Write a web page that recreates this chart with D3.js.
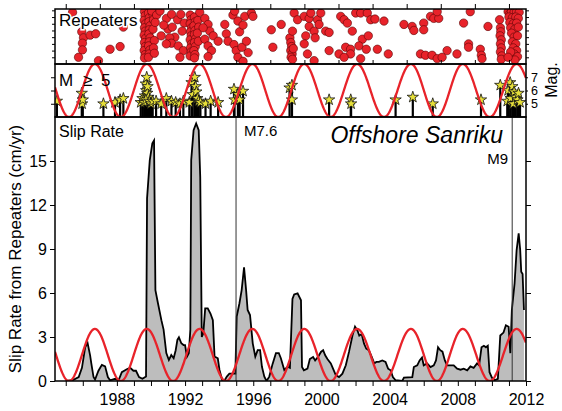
<!DOCTYPE html>
<html>
<head>
<meta charset="utf-8">
<script src="https://cdn.jsdelivr.net/npm/d3@7"></script>
<style>
  body { margin: 0; background: #fff; }
  text { font-family: "Liberation Sans", Arial, Helvetica, sans-serif; }
</style>
</head>
<body>
<svg id="chart" width="562" height="411"></svg>
<script>
// ---- data ----

// repeating earthquakes: [year, sequence position]
var repeaters = [
  [1985.40,7.7],[1985.94,4.8],[1986.04,3.9],[1985.98,3.1],[1985.98,2.1],[1985.75,1.0],[1986.43,4.3],[1986.76,4.5],
  [1986.92,0.5],[1987.60,2.2],[1988.19,2.6],[1988.38,5.5],
  [1989.62,7.8],[1989.65,7.2],[1989.60,6.5],[1989.68,6.0],[1989.62,5.4],[1989.66,4.9],[1989.60,4.3],[1989.68,3.8],
  [1989.62,3.2],[1989.66,2.6],[1989.60,2.0],[1989.66,1.4],[1989.62,0.9],
  [1989.85,7.6],[1989.90,6.9],[1989.88,6.3],[1989.95,5.7],[1989.90,5.1],[1989.88,4.5],[1989.95,3.9],[1989.90,3.3],
  [1989.86,2.7],[1989.94,2.1],[1989.90,1.5],[1989.85,1.0],
  [1990.10,7.5],[1990.15,6.6],[1990.12,5.2],[1990.20,3.5],[1990.15,2.4],[1990.20,1.6],[1990.04,7.9],[1990.33,7.3],[1990.25,6.2],
  [1990.53,7.9],[1990.91,6.8],[1991.21,7.4],[1991.56,6.6],[1991.75,7.4],[1991.95,6.1],[1991.83,4.9],[1991.40,4.0],
  [1991.10,3.9],[1991.20,3.1],[1991.60,2.7],[1991.90,2.0],[1991.70,1.0],[1990.90,3.0],[1990.60,4.2],[1991.00,5.2],
  [1991.25,5.5],[1990.75,5.8],
  [1992.30,7.3],[1992.35,6.6],[1992.30,6.0],[1992.38,5.4],[1992.32,4.8],[1992.36,4.2],[1992.30,3.6],[1992.38,3.0],
  [1992.32,2.4],[1992.36,1.8],[1992.30,1.2],
  [1992.55,7.0],[1992.60,6.3],[1992.52,5.7],[1992.58,5.0],[1992.55,4.4],[1992.62,3.8],[1992.55,3.2],[1992.60,2.6],
  [1992.52,2.0],[1992.58,1.4],[1992.55,0.9],[1992.75,6.5],[1992.80,5.5],[1992.72,4.6],[1992.78,3.4],
  [1992.86,7.7],[1993.16,6.8],[1993.35,5.9],[1993.45,4.9],[1993.65,4.2],[1993.16,3.7],[1993.35,2.7],[1993.55,2.0],
  [1993.35,1.1],[1993.94,3.4],[1993.06,5.4],
  [1994.33,5.9],[1994.42,4.5],[1994.52,3.4],[1994.81,7.3],[1994.91,7.9],[1995.10,6.4],[1995.20,4.8],[1995.40,5.8],
  [1995.50,7.1],[1995.89,7.6],[1995.98,7.1],[1994.87,2.9],[1995.00,2.0],[1995.10,1.0],[1995.40,0.4],[1995.34,2.5],
  [1995.60,3.4],[1995.70,1.7],
  [1997.06,5.1],[1997.15,2.5],[1997.64,5.9],
  [1998.15,3.9],[1998.20,3.2],[1998.25,2.6],[1998.20,2.0],[1998.28,1.5],[1998.22,1.0],[1998.30,0.7],[1998.35,2.3],
  [1998.40,7.6],[1998.60,6.6],[1998.30,4.9],
  [1998.99,7.1],[1999.28,6.8],[1999.38,7.6],[1999.77,6.6],[1999.96,7.6],[1999.28,5.6],[1999.57,4.9],[1999.63,3.9],
  [1999.86,5.9],[1999.08,4.2],[1998.99,3.0],[1999.18,1.5],[1999.57,0.5],
  [2000.25,4.9],[2000.45,4.7],[2000.45,2.0],
  [2001.13,7.1],[2001.33,6.6],[2001.52,6.1],[2001.81,4.9],[2002.01,7.6],[2002.30,7.6],[2002.69,7.6],[2002.89,6.6],
  [2003.14,6.7],[2003.67,6.4],[2002.40,3.7],[2002.75,4.2],[2002.20,2.7],[2002.63,2.2],[2003.28,2.2],[2001.03,1.5],
  [2001.42,2.5],[2001.71,2.2],[2001.71,1.5],[2001.33,1.0],[2002.30,0.8],[2003.92,1.5],
  [2004.84,5.9],[2005.32,5.6],[2005.42,5.0],[2006.00,6.1],[2006.00,5.1],[2006.40,7.1],[2006.59,6.8],[2006.88,6.8],
  [2006.79,7.8],[2005.81,1.5],[2006.10,1.3],[2006.49,1.3],[2006.79,0.8],[2007.37,2.0],[2007.08,1.0],[2007.95,1.5],
  [2008.34,6.1],[2008.73,7.8],[2009.77,5.6],[2008.63,3.0],[2008.63,2.5],[2009.32,2.2],[2009.38,1.3],[2009.42,0.8],
  [2010.45,6.6],[2010.50,5.4],[2010.52,4.8],[2010.48,4.2],[2010.55,3.6],[2010.50,3.0],[2010.55,2.4],[2010.50,1.8],
  [2010.58,1.2],[2010.55,0.7],
  [2010.95,7.8],[2011.05,7.5],[2011.15,7.8],[2011.30,7.7],[2011.45,7.8],[2011.60,7.7],[2011.00,7.0],[2011.20,6.9],
  [2011.40,7.0],[2011.55,6.8],[2011.05,6.2],[2011.25,6.0],[2011.45,6.1],[2011.10,5.4],[2011.35,5.2],[2011.55,5.5],
  [2011.15,4.6],[2011.30,4.0],[2011.50,4.2],[2011.20,3.3],[2011.40,3.0],[2011.25,2.4],[2011.45,2.0],[2011.30,1.5],
  [2011.50,1.1],[2011.35,0.6],[2011.10,1.8],[2010.95,1.0]
];

// M>=5 earthquakes: [year, magnitude]
var quakes = [
  [1984.48,5.2],[1985.94,5.8],[1985.96,5.0],[1986.00,5.3],[1987.21,5.0],[1987.89,5.1],[1988.19,5.3],[1988.38,5.4],
  [1989.40,5.1],[1989.50,5.4],[1989.60,5.1],[1989.65,5.6],[1989.70,6.5],[1989.72,6.0],[1989.75,7.0],[1989.78,5.8],
  [1989.80,6.3],[1989.85,5.5],[1989.70,5.3],[1989.90,5.2],[1990.00,5.0],[1990.10,5.2],
  [1990.30,5.2],[1990.60,5.0],[1990.90,5.4],[1991.20,5.2],[1991.45,5.1],[1991.70,5.0],[1991.90,5.2],
  [1992.25,5.1],[1992.38,6.6],[1992.45,5.7],[1992.57,7.0],[1992.62,6.3],[1992.66,5.9],[1992.72,5.4],[1992.80,5.2],
  [1992.90,5.1],[1993.20,5.0],[1993.50,5.2],[1993.94,5.1],
  [1994.87,6.1],[1994.90,5.3],[1995.10,5.7],[1995.20,5.3],[1995.40,5.95],
  [1998.13,6.2],[1998.27,6.4],[1998.27,5.3],[2000.45,5.3],[2001.72,5.3],[2001.74,5.0],[2004.35,5.3],[2005.36,5.5],
  [2006.53,5.0],[2009.36,5.3],[2010.49,6.4],
  [2010.90,5.2],[2010.95,6.0],[2011.07,6.6],[2011.10,5.4],[2011.20,6.3],[2011.25,5.0],[2011.30,5.9],[2011.40,5.5],
  [2011.50,5.3],[2011.56,5.8],[2011.65,5.1]
];

// slip rate from repeaters (cm/yr): [year, rate]
var slipRate = [
  [1985.00,0],[1985.40,0.05],[1985.76,0.27],[1985.95,0.9],[1986.14,2.3],[1986.28,2.6],[1986.43,1.75],[1986.50,1.2],
  [1986.63,0.27],[1986.72,0.1],[1986.92,0.7],[1987.12,1.1],[1987.31,1.0],[1987.47,0.27],[1987.60,0.05],[1987.90,0.15],
  [1988.10,0.05],[1988.29,0.6],[1988.58,0.8],[1988.78,0.9],[1988.97,0.7],[1989.12,0.7],[1989.30,0.27],[1989.50,0.15],
  [1989.71,0.3],[1989.77,12.45],[1989.93,15.06],[1990.08,16.2],[1990.18,16.4],[1990.26,6.2],[1990.41,5.3],[1990.61,4.15],
  [1990.74,3.5],[1990.90,1.9],[1991.05,1.43],[1991.19,1.77],[1991.33,1.55],[1991.45,2.1],[1991.55,2.8],[1991.64,2.98],
  [1991.78,2.57],[1991.91,2.45],[1992.00,2.45],[1992.11,1.66],[1992.22,1.9],[1992.31,3.5],[1992.36,15.06],[1992.50,17.1],
  [1992.65,17.56],[1992.80,17.1],[1992.89,13.9],[1992.98,3.0],[1993.07,3.26],[1993.18,4.95],[1993.33,4.95],[1993.49,4.6],
  [1993.63,4.15],[1993.73,1.66],[1993.92,1.55],[1994.02,0.75],[1994.18,0.05],[1994.30,0],[1994.45,0.3],[1994.60,0.5],
  [1994.95,0.5],[1995.03,4.4],[1995.19,5.3],[1995.32,6.2],[1995.46,7.75],[1995.58,6.2],[1995.67,4.84],[1995.81,4.5],
  [1995.97,2.57],[1996.12,1.66],[1996.26,2.1],[1996.40,2.1],[1996.51,0.97],[1996.65,0.3],[1996.78,0],[1996.94,0.3],
  [1997.13,1.15],[1997.33,1.9],[1997.50,1.9],[1997.62,1.55],[1997.82,0.75],[1998.01,0.97],[1998.15,0.9],[1998.30,5.6],
  [1998.40,5.9],[1998.60,5.98],[1998.80,5.5],[1998.86,0.95],[1998.97,0.73],[1999.18,0.84],[1999.32,1.5],[1999.51,1.64],
  [1999.63,1.4],[1999.80,1.64],[1999.97,1.98],[2000.10,2.1],[2000.22,1.75],[2000.35,1.5],[2000.55,1.2],[2000.68,0.84],
  [2000.84,0.4],[2001.03,0.27],[2001.23,0.5],[2001.43,1.07],[2001.62,2.0],[2001.82,3.1],[2001.97,3.7],[2002.11,3.45],
  [2002.22,3.1],[2002.36,3.2],[2002.50,2.55],[2002.63,2.2],[2002.78,2.1],[2002.95,1.64],[2003.10,1.2],[2003.22,1.3],
  [2003.37,1.3],[2003.57,1.4],[2003.76,1.3],[2003.91,0.84],[2004.06,0.73],[2004.19,0.27],[2004.35,0.05],[2004.74,0],
  [2004.84,0.23],[2005.33,0.27],[2005.42,0.95],[2005.62,1.07],[2005.76,1.4],[2005.90,1.6],[2006.00,1.07],[2006.20,1.2],
  [2006.40,0.95],[2006.59,1.07],[2006.72,1.4],[2006.84,2.3],[2006.97,2.1],[2007.10,2.0],[2007.24,1.4],[2007.37,1.07],
  [2007.57,1.07],[2007.76,1.07],[2007.96,0.84],[2008.16,0.77],[2008.35,0.84],[2008.55,0.73],[2008.74,1.0],[2008.93,0.9],
  [2009.13,1.2],[2009.25,1.07],[2009.39,2.3],[2009.53,2.4],[2009.65,2.3],[2009.76,2.4],[2009.86,0.6],[2010.00,0.23],
  [2010.15,0.05],[2010.35,0.15],[2010.49,3.1],[2010.68,3.3],[2010.82,3.8],[2010.98,3.7],[2011.08,1.9],[2011.17,4.84],
  [2011.33,6.66],[2011.45,8.93],[2011.57,10.07],[2011.66,8.93],[2011.72,7.45],[2011.80,7.3],[2011.88,4.84]
];

// crests of the periodic (red) curve
var wavePeaks = [1986.71, 1989.75, 1992.85, 1995.95, 1998.99, 2002.09, 2005.25, 2008.29, 2011.45];
var waveMaxRate = 3.55;

// large events marked with vertical lines
var events = [{label: "M7.6", year: 1994.99}, {label: "M9", year: 2011.19}];

var slipTicks = [0, 3, 6, 9, 12, 15];
var magTicks = [5, 6, 7];

// ---- layout ----
var svg = d3.select("#chart");
var left = 55, right = 526;
var topP = {y0: 9, y1: 64}, midP = {y0: 64, y1: 117}, botP = {y0: 117, y1: 381};

var x = d3.scaleLinear().domain([1984.37, 2012]).range([left, right]);
var yRep = d3.scaleLinear().domain([0, 8.2]).range([topP.y1, topP.y0]);
var yMag = d3.scaleLinear().domain([4, 8]).range([midP.y1, midP.y0]);
var ySlip = d3.scaleLinear().domain([0, 18]).range([botP.y1, botP.y0]);

var red = "#e8232a";

function clip(id, p) {
  svg.append("clipPath").attr("id", id).append("rect")
    .attr("x", left).attr("y", p.y0).attr("width", right - left).attr("height", p.y1 - p.y0);
}
clip("cTop", topP); clip("cMid", midP); clip("cBot", botP);

// periodic curve between crests (0..1)
function waveAt(t) {
  var n = wavePeaks.length, i = 0;
  while (i < n - 2 && t >= wavePeaks[i + 1]) i++;
  var p0 = wavePeaks[i], p1 = wavePeaks[i + 1];
  return 0.5 + 0.5 * Math.cos(2 * Math.PI * (t - p0) / (p1 - p0));
}
var waveT = d3.range(x.domain()[0], x.domain()[1] + 0.001, 0.02);

// ---- top panel: repeaters ----
var gTop = svg.append("g").attr("clip-path", "url(#cTop)");
gTop.selectAll("circle").data(repeaters).join("circle")
  .attr("cx", d => x(d[0])).attr("cy", d => yRep(d[1])).attr("r", 4.2)
  .attr("fill", red).attr("stroke", "#5a0505").attr("stroke-width", 0.6);

// ---- middle panel: M>=5 ----
var gMid = svg.append("g").attr("clip-path", "url(#cMid)");
gMid.selectAll("line.stem").data(quakes).join("line").attr("class", "stem")
  .attr("x1", d => x(d[0])).attr("x2", d => x(d[0]))
  .attr("y1", yMag(4)).attr("y2", d => yMag(d[1]))
  .attr("stroke", "#000").attr("stroke-width", 2.2);
var star = d3.symbol().type(d3.symbolStar).size(40);
gMid.selectAll("path.star").data(quakes).join("path").attr("class", "star")
  .attr("d", star)
  .attr("transform", d => "translate(" + x(d[0]) + "," + yMag(d[1]) + ")")
  .attr("fill", "#e6df3a").attr("stroke", "#111").attr("stroke-width", 0.8);
gMid.append("path").datum(waveT)
  .attr("d", d3.line().x(t => x(t)).y(t => yMag(4 + 4 * waveAt(t))))
  .attr("fill", "none").attr("stroke", red).attr("stroke-width", 2.3);

// ---- bottom panel: slip rate ----
var gBot = svg.append("g").attr("clip-path", "url(#cBot)");
gBot.append("path").datum(slipRate)
  .attr("d", d3.area().x(d => x(d[0])).y0(ySlip(0)).y1(d => ySlip(d[1])))
  .attr("fill", "#bdbdbd");
gBot.append("path").datum(slipRate)
  .attr("d", d3.line().x(d => x(d[0])).y(d => ySlip(d[1])))
  .attr("fill", "none").attr("stroke", "#000").attr("stroke-width", 1.8);
gBot.selectAll("line.ev").data(events).join("line").attr("class", "ev")
  .attr("x1", d => x(d.year)).attr("x2", d => x(d.year))
  .attr("y1", botP.y0).attr("y2", botP.y1)
  .attr("stroke", "#333").attr("stroke-width", 1);
gBot.append("path").datum(waveT)
  .attr("d", d3.line().x(t => x(t)).y(t => ySlip(waveMaxRate * waveAt(t))))
  .attr("fill", "none").attr("stroke", red).attr("stroke-width", 2.3);

// ---- frames and axes ----
[topP, midP, botP].forEach(function(p) {
  svg.append("rect").attr("x", left).attr("y", p.y0)
    .attr("width", right - left).attr("height", p.y1 - p.y0)
    .attr("fill", "none").attr("stroke", "#000").attr("stroke-width", 1.5);
});

function styleAxis(g) {
  g.select(".domain").remove();
  g.selectAll(".tick line").attr("stroke", "#000").attr("stroke-width", 1);
  g.selectAll(".tick text").attr("fill", "#000").style("font-size", "16px")
    .style("font-family", "'Liberation Sans', Arial, sans-serif");
}

var allYears = d3.range(1985, 2013);
var oddYears = d3.range(1985, 2012, 2);

svg.append("g").attr("transform", "translate(0," + botP.y1 + ")")
  .call(d3.axisBottom(x).tickValues(allYears).tickSize(5).tickPadding(8)
    .tickFormat(d => d % 4 === 0 ? d : ""))
  .call(styleAxis);

svg.append("g").attr("transform", "translate(0," + topP.y0 + ")")
  .call(d3.axisTop(x).tickValues(oddYears).tickSize(5).tickFormat(""))
  .call(styleAxis);
svg.append("g").attr("transform", "translate(0," + topP.y1 + ")")
  .call(d3.axisTop(x).tickValues(oddYears).tickSize(4).tickFormat(""))
  .call(styleAxis);

svg.append("g").attr("transform", "translate(" + left + ",0)")
  .call(d3.axisLeft(ySlip).tickValues(slipTicks).tickSize(5).tickPadding(3))
  .call(styleAxis);
svg.append("g").attr("transform", "translate(" + right + ",0)")
  .call(d3.axisRight(ySlip).tickValues(slipTicks).tickSize(5).tickFormat(""))
  .call(styleAxis);

svg.append("g").attr("transform", "translate(" + left + ",0)")
  .call(d3.axisLeft(yMag).tickValues(magTicks).tickSize(4).tickFormat(""))
  .call(styleAxis);
svg.append("g").attr("transform", "translate(" + right + ",0)")
  .call(d3.axisRight(yMag).tickValues(magTicks).tickSize(2).tickPadding(3).tickFormat(d3.format("d")))
  .call(styleAxis)
  .selectAll(".tick text").style("font-size", "12.5px");

svg.append("g").attr("transform", "translate(" + left + ",0)")
  .call(d3.axisLeft(yRep).tickValues(d3.range(1, 9)).tickSize(3).tickFormat(""))
  .call(styleAxis);
svg.append("g").attr("transform", "translate(" + right + ",0)")
  .call(d3.axisRight(yRep).tickValues(d3.range(1, 9)).tickSize(3).tickFormat(""))
  .call(styleAxis);

// ---- labels ----
svg.append("text").attr("x", 59).attr("y", 26).text("Repeaters")
  .style("font-size", "17px").attr("fill", "#000")
  .attr("stroke", "#fff").attr("stroke-width", 3).attr("paint-order", "stroke");

var mLab = svg.append("text").attr("y", 86).style("font-size", "17px").attr("fill", "#000");
mLab.append("tspan").attr("x", 59).text("M");
mLab.append("tspan").attr("x", 83).text("≥");
mLab.append("tspan").attr("x", 101).text("5");

svg.append("text").attr("x", 59).attr("y", 137).text("Slip Rate").style("font-size", "16px");
svg.append("text").attr("x", 503).attr("y", 143).attr("text-anchor", "end")
  .text("Offshore Sanriku").style("font-size", "23px").style("font-style", "italic");

svg.selectAll("text.ev").data(events).join("text").attr("class", "ev")
  .attr("x", (d, i) => i === 0 ? x(d.year) + 8 : x(d.year) - 4)
  .attr("y", (d, i) => i === 0 ? 136 : 164)
  .attr("text-anchor", (d, i) => i === 0 ? "start" : "end")
  .style("font-size", "15px").text(d => d.label);

svg.append("text").attr("transform", "translate(21,249) rotate(-90)")
  .attr("text-anchor", "middle").style("font-size", "17px")
  .text("Slip Rate from Repeaters (cm/yr)");

svg.append("text").attr("transform", "translate(557,80) rotate(-90)")
  .attr("text-anchor", "middle").style("font-size", "16px").text("Mag.");
</script>
</body>
</html>
